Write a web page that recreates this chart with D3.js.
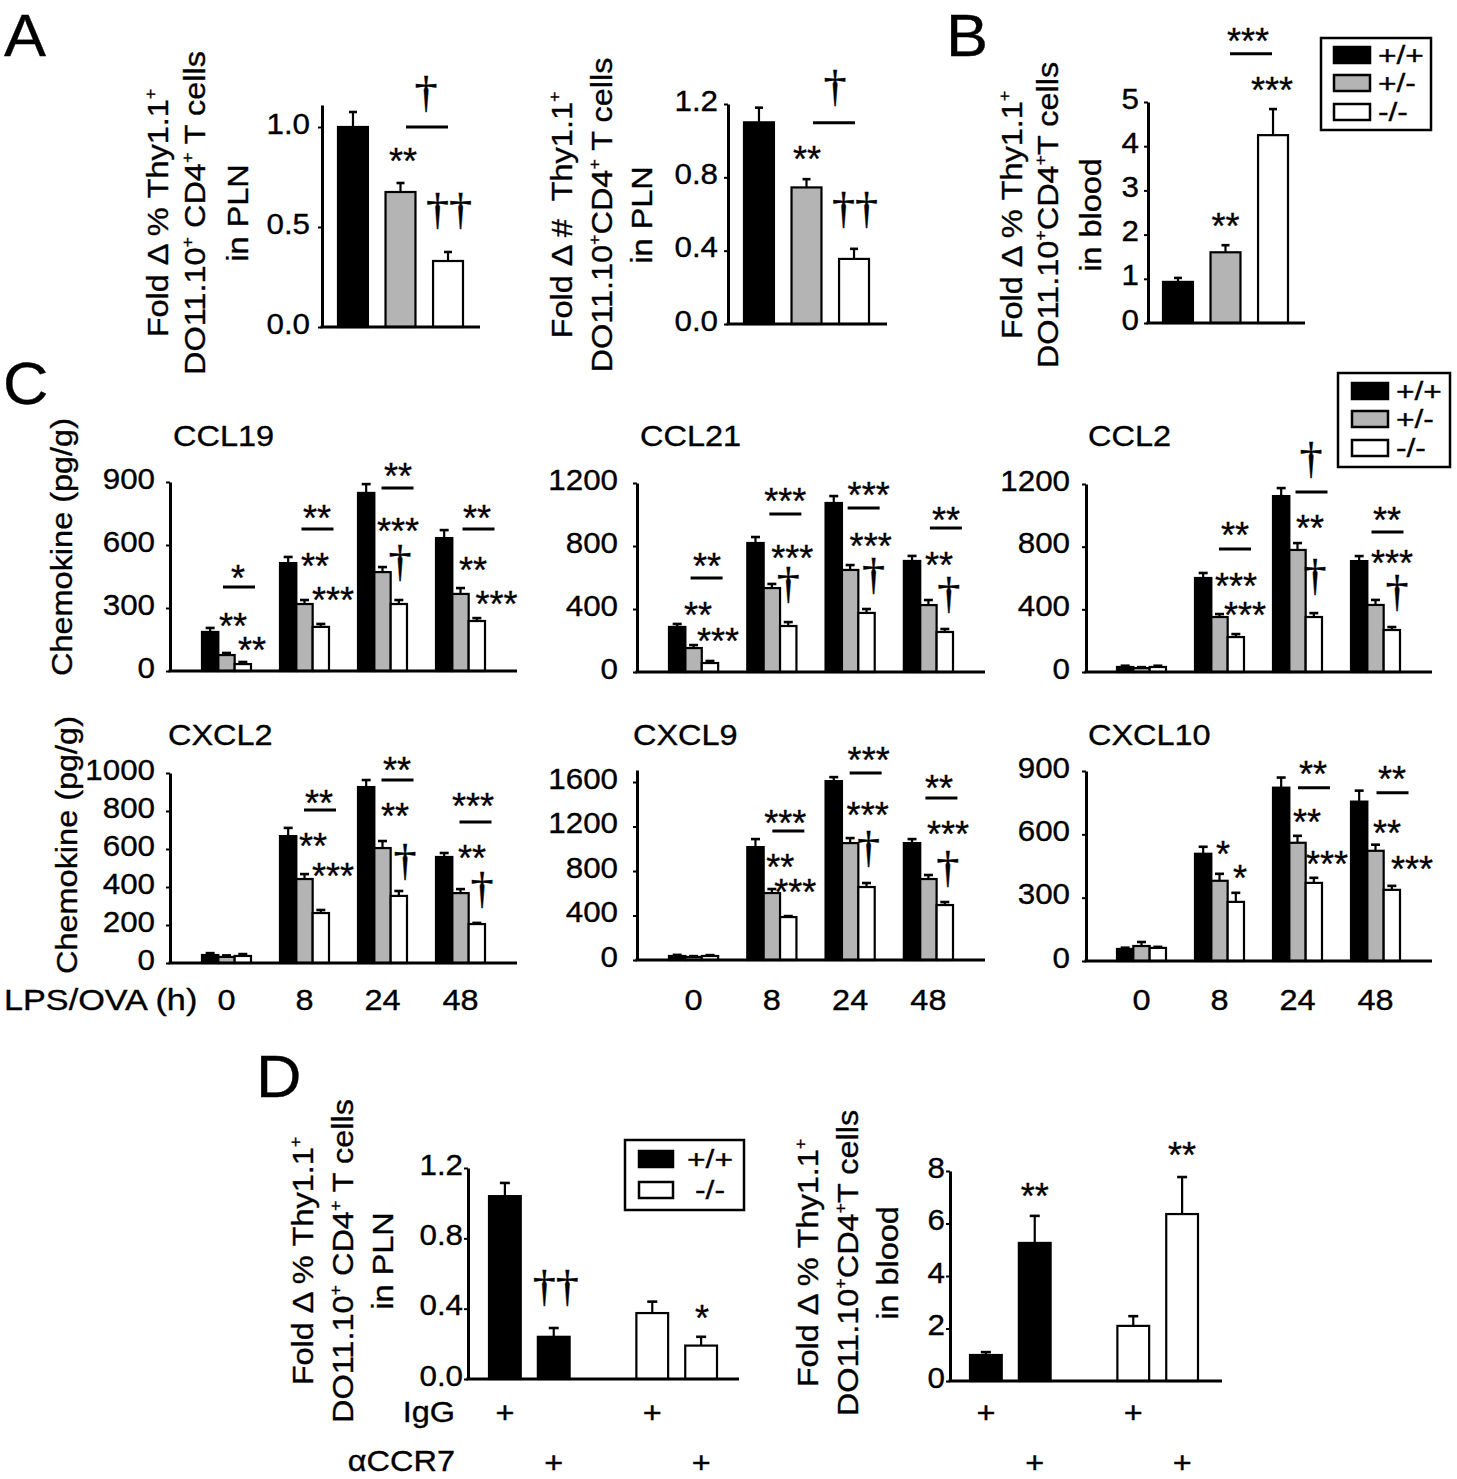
<!DOCTYPE html>
<html><head><meta charset="utf-8">
<script src="https://cdn.jsdelivr.net/npm/d3@7"></script>
<style>body{margin:0;background:#fff;} svg{display:block;} text{white-space:pre;}</style>
</head><body>
<script>
// ================= DATA =================
const genotypes = ["+/+", "+/-", "-/-"];
const timepoints = ["0", "8", "24", "48"];
const dGenotypes = ["+/+", "-/-"];
const treatments = ["IgG", "αCCR7"];

// Panel A (left): fold change % in PLN
const a1Means = [[1.00, 0.675, 0.33]];
const a1Errors = [[0.075, 0.045, 0.045]];
// Panel A (right): fold change # in PLN
const a2Means = [[1.10, 0.745, 0.355]];
const a2Errors = [[0.08, 0.045, 0.055]];
// Panel B: fold change % in blood
const bMeans = [[0.93, 1.60, 4.25]];
const bErrors = [[0.09, 0.16, 0.59]];

// Panel C: chemokines (rows = timepoints, cols = genotypes)
const ccl19Means = [[186, 76, 33], [514, 319, 210], [848, 471, 319], [633, 367, 238]];
const ccl19Errors = [[19, 10, 10], [29, 19, 14], [42, 24, 19], [38, 28, 14]];
const ccl21Means = [[286, 152, 57], [819, 533, 292], [1073, 648, 375], [705, 425, 254]];
const ccl21Errors = [[19, 19, 13], [38, 26, 25], [44, 31, 25], [32, 32, 19]];
const ccl2Means = [[32, 25, 32], [600, 351, 223], [1123, 779, 351], [708, 428, 268]];
const ccl2Errors = [[8, 6, 8], [32, 19, 19], [51, 44, 25], [32, 32, 19]];
const cxcl2Means = [[42, 32, 37], [668, 442, 263], [926, 605, 353], [558, 368, 205]];
const cxcl2Errors = [[10, 8, 10], [43, 26, 16], [37, 37, 26], [21, 21, 6]];
const cxcl9Means = [[36, 27, 36], [1015, 602, 386], [1608, 1051, 656], [1051, 728, 494]];
const cxcl9Errors = [[10, 8, 8], [72, 36, 9], [36, 45, 36], [36, 36, 27]];
const cxcl10Means = [[57, 71, 62], [508, 380, 280], [821, 560, 370], [755, 522, 337]];
const cxcl10Errors = [[6, 19, 5], [33, 33, 43], [48, 33, 24], [52, 29, 19]];

// Panel D (rows = genotype, cols = treatment)
const dPlnMeans = [[1.04, 0.24], [0.375, 0.19]];
const dPlnErrors = [[0.075, 0.05], [0.065, 0.05]];
const dBloodMeans = [[0.99, 5.26], [2.10, 6.36]];
const dBloodErrors = [[0.11, 1.03], [0.37, 1.41]];

// tick values
const a1Ticks = [0, 0.5, 1.0];
const a2Ticks = [0, 0.4, 0.8, 1.2];
const bTicks = [0, 1, 2, 3, 4, 5];
const ccl19Ticks = [0, 300, 600, 900];
const ccl21Ticks = [0, 400, 800, 1200];
const ccl2Ticks = [0, 400, 800, 1200];
const cxcl2Ticks = [0, 200, 400, 600, 800, 1000];
const cxcl9Ticks = [0, 400, 800, 1200, 1600];
const cxcl10Ticks = [0, 300, 600, 900];
const dPlnTicks = [0, 0.4, 0.8, 1.2];
const dBloodTicks = [0, 2, 4, 6, 8];

// significance marks: [group, bar, offset, level (data units), label]
const a1Sig = [[0, 1, 2.5, 0.87, "**"], [0, 1, 26.5, 1.0, "line"], [0, 1, 25.5, 1.157, "†"], [0, 2, 1, 0.575, "††"]];
const a2Sig = [[0, 1, 0.5, 0.94, "**"], [0, 1, 27.5, 1.098, "line"], [0, 1, 28.5, 1.279, "†"], [0, 2, 1, 0.612, "††"]];
const bSig = [[0, 1, 0, 2.38, "**"], [0, 1, 22.5, 6.56, "***"], [0, 1, 25.5, 6.09, "line"], [0, 2, -1, 5.45, "***"]];
const ccl19Sig = [
  [0, 1, 11.5, 481, "*"], [0, 1, 12.5, 400, "line"], [0, 1, 6.5, 252, "**"], [0, 1, 25.5, 138, "**"],
  [1, 1, 12.5, 767, "**"], [1, 1, 13, 676, "line"], [1, 1, 10.5, 538, "**"], [1, 1, 28.5, 376, "***"],
  [2, 1, 15.5, 967, "**"], [2, 1, 15, 871, "line"], [2, 1, 15.5, 705, "***"], [2, 1, 17.5, 510, "†"],
  [3, 1, 16.5, 767, "**"], [3, 1, 18, 676, "line"], [3, 1, 12.5, 519, "**"], [3, 1, 36, 357, "***"]];
const ccl21Sig = [
  [0, 1, 13.5, 724, "**"], [0, 1, 13, 597, "line"], [0, 1, 4.5, 413, "**"], [0, 1, 24.5, 248, "***"],
  [1, 1, 13.5, 1137, "***"], [1, 1, 13.5, 1003, "line"], [1, 1, 20.5, 775, "***"], [1, 1, 16.5, 546, "†"],
  [2, 1, 18.5, 1175, "***"], [2, 1, 13.5, 1041, "line"], [2, 1, 20.5, 851, "***"], [2, 1, 23.5, 603, "†"],
  [3, 1, 17.5, 1016, "**"], [3, 1, 17.5, 914, "line"], [3, 1, 10.5, 730, "**"], [3, 1, 20.5, 483, "†"]];
const ccl2Sig = [
  [1, 1, 15.5, 925, "**"], [1, 1, 15.5, 785, "line"], [1, 1, 16.5, 600, "***"], [1, 1, 25.5, 415, "***"],
  [2, 1, 13.5, 1347, "†"], [2, 1, 14, 1149, "line"], [2, 1, 12.5, 970, "**"], [2, 1, 17.5, 600, "†"],
  [3, 1, 11.5, 1021, "**"], [3, 1, 12, 893, "line"], [3, 1, 16.5, 747, "***"], [3, 1, 21.5, 498, "†"]];
const cxcl2Sig = [
  [1, 1, 14.5, 884, "**"], [1, 1, 15.5, 805, "line"], [1, 1, 8.5, 658, "**"], [1, 1, 28.5, 500, "***"],
  [2, 1, 14.5, 1058, "**"], [2, 1, 15, 963, "line"], [2, 1, 12.5, 816, "**"], [2, 1, 22.5, 526, "†"],
  [3, 1, 12.5, 868, "***"], [3, 1, 15, 742, "line"], [3, 1, 11.5, 595, "**"], [3, 1, 21.5, 379, "†"]];
const cxcl9Sig = [
  [1, 1, 13.5, 1303, "***"], [1, 1, 16.5, 1159, "line"], [1, 1, 8.5, 907, "**"], [1, 1, 23.5, 683, "***"],
  [2, 1, 18.5, 1869, "***"], [2, 1, 15.5, 1680, "line"], [2, 1, 17.5, 1375, "***"], [2, 1, 18.5, 988, "†"],
  [3, 1, 10.5, 1617, "**"], [3, 1, 13, 1456, "line"], [3, 1, 19.5, 1204, "***"], [3, 1, 19.5, 809, "†"]];
const cxcl10Sig = [
  [1, 1, 3.5, 541, "*"], [1, 1, 20.5, 432, "*"],
  [2, 1, 15.5, 921, "**"], [2, 1, 16.5, 821, "line"], [2, 1, 9.5, 693, "**"], [2, 1, 29.5, 494, "***"],
  [3, 1, 16.5, 897, "**"], [3, 1, 17, 797, "line"], [3, 1, 11.5, 641, "**"], [3, 1, 36.5, 470, "***"]];
const dPlnSig = [[0, 1, 2, 0.512, "††"], [1, 1, 1, 0.39, "*"]];
const dBloodSig = [[0, 1, 0, 7.35, "**"], [1, 1, 0, 8.91, "**"]];

// ================= DRAWING =================
const W = 1457, H = 1479;
const svg = d3.select("body").append("svg").attr("width", W).attr("height", H);
svg.append("rect").attr("width", W).attr("height", H).attr("fill", "#fff");

const FONT = "'Liberation Sans', Arial, Helvetica, sans-serif";
const DAGFONT = "'Liberation Serif', 'Times New Roman', serif";
const FS = 29, SX = 1.12, TSX = 1.08, STAR = 36, DAG = 44;
const fillOf = {"+/+": "#000", "+/-": "#b4b4b4", "-/-": "#fff"};

function addText(parent, str, o = {}) {
  const size = o.size || FS, sx = o.sx || SX;
  const t = parent.append("text")
    .attr("transform", `translate(${o.x || 0},${o.y || 0})${o.rot ? ` rotate(${o.rot})` : ""} scale(${sx},1)`)
    .attr("text-anchor", o.anchor || "start")
    .attr("font-family", o.family || FONT)
    .attr("font-size", size)
    .attr("fill", "#000")
    .attr("stroke", "#000").attr("stroke-width", 0.35);
  const parts = String(str).split("^+");
  parts.forEach((p, i) => {
    if (i > 0) {
      t.append("tspan").attr("font-size", size * 0.55).attr("dy", -size * 0.42).text("+");
      t.append("tspan").attr("dy", size * 0.42).text(p);
    } else {
      t.append("tspan").text(p);
    }
  });
  return t;
}

function barChart(cfg) {
  const g = svg.append("g");
  const y = d3.scaleLinear().domain([0, cfg.yMax]).range([cfg.baseY, cfg.topY]);
  const x0 = d3.scaleBand().domain(cfg.groups).range(cfg.range).paddingInner(cfg.groupPad || 0).paddingOuter(0);
  const x1 = d3.scaleBand().domain(cfg.series).range([0, x0.bandwidth()]).paddingInner(cfg.seriesPad || 0).paddingOuter(0);
  const cells = cfg.groups.flatMap((grp, gi) => cfg.series.map((s, si) => ({grp, s, gi, si, v: cfg.means[gi][si], e: cfg.errors[gi][si]})));
  const cx = d => x0(d.grp) + x1(d.s) + x1.bandwidth() / 2;

  // error bars (upper only)
  g.append("g").selectAll("line").data(cells).join("line")
    .attr("x1", cx).attr("x2", cx)
    .attr("y1", d => y(d.v)).attr("y2", d => y(d.v + d.e))
    .attr("stroke", "#000").attr("stroke-width", 2.2);
  g.append("g").selectAll("line").data(cells).join("line")
    .attr("x1", d => cx(d) - cfg.cap / 2).attr("x2", d => cx(d) + cfg.cap / 2)
    .attr("y1", d => y(d.v + d.e)).attr("y2", d => y(d.v + d.e))
    .attr("stroke", "#000").attr("stroke-width", 2.6);
  // bars
  g.append("g").selectAll("rect").data(cells).join("rect")
    .attr("x", d => x0(d.grp) + x1(d.s)).attr("width", x1.bandwidth())
    .attr("y", d => y(d.v)).attr("height", d => y(0) - y(d.v))
    .attr("fill", cfg.fill).attr("stroke", "#000").attr("stroke-width", 2.2);

  // y axis
  const ax = g.append("g").attr("transform", `translate(${cfg.axisX},0)`)
    .call(d3.axisLeft(y).tickValues(cfg.ticks).tickFormat(d3.format(cfg.fmt))
      .tickSize(4).tickSizeOuter(0).tickPadding(cfg.tickPad));
  ax.select(".domain").attr("stroke", "#000").attr("stroke-width", 3);
  ax.selectAll(".tick line").attr("stroke", "#000").attr("stroke-width", 2);
  ax.selectAll(".tick text").each(function () {
    const t = d3.select(this); const tx = +t.attr("x");
    t.attr("x", 0).attr("dy", "0.35em")
      .attr("transform", `translate(${tx},-4) scale(${TSX},1)`)
      .attr("font-family", FONT).attr("font-size", FS).attr("fill", "#000")
      .attr("stroke", "#000").attr("stroke-width", 0.35);
  });
  // x baseline
  g.append("line").attr("x1", cfg.axisX - 1.5).attr("x2", cfg.axisEnd)
    .attr("y1", cfg.baseY).attr("y2", cfg.baseY).attr("stroke", "#000").attr("stroke-width", 3);

  // x labels
  if (cfg.xLabelY) {
    cfg.groups.forEach(grp => addText(g, grp, {x: x0(grp) + x0.bandwidth() / 2, y: cfg.xLabelY, anchor: "middle"}));
  }
  // "+" treatment rows
  if (cfg.plusRows) {
    cfg.series.forEach((s, si) => cfg.groups.forEach(grp =>
      addText(g, "+", {x: x0(grp) + x1(s) + x1.bandwidth() / 2, y: cfg.plusRows[si], anchor: "middle"})));
  }
  // title
  if (cfg.title) addText(g, cfg.title[0], {x: cfg.title[1], y: cfg.title[2]});

  // significance
  (cfg.sig || []).forEach(([gi, si, dx, v, lab]) => {
    const px = x0(cfg.groups[gi]) + x1(cfg.series[si]) + x1.bandwidth() / 2 + dx;
    const py = y(v);
    if (lab === "line") {
      g.append("line").attr("x1", px - cfg.lineW / 2).attr("x2", px + cfg.lineW / 2)
        .attr("y1", py).attr("y2", py).attr("stroke", "#000").attr("stroke-width", 3);
    } else if (lab.includes("†")) {
      addText(g, lab, {x: px, y: py + 0.265 * DAG, size: DAG, anchor: "middle", family: DAGFONT, sx: 1.05});
    } else {
      addText(g, lab, {x: px, y: py + 0.575 * STAR, size: STAR, anchor: "middle", sx: 1.0});
    }
  });
  return {g, x0, x1, y};
}

function yLabel(lines, xs, cy) {
  lines.forEach((ln, i) => addText(svg, ln, {x: xs[i], y: cy, rot: -90, anchor: "middle"}));
}

function legend(keys, box, sw, rows, labX, labAnchor) {
  const g = svg.append("g");
  g.append("rect").attr("x", box[0]).attr("y", box[1]).attr("width", box[2]).attr("height", box[3])
    .attr("fill", "#fff").attr("stroke", "#000").attr("stroke-width", 2.5);
  keys.forEach((k, i) => {
    g.append("rect").attr("x", sw[0]).attr("y", rows[i] - sw[2] / 2).attr("width", sw[1]).attr("height", sw[2])
      .attr("fill", fillOf[k]).attr("stroke", "#000").attr("stroke-width", 2.5);
    addText(g, k, {x: labX, y: rows[i] + 9, anchor: labAnchor, size: 26, sx: 1.22});
  });
}

// ---------- Panel letters ----------
[["A", 4, 56], ["B", 946, 56], ["C", 3, 404], ["D", 256, 1097]].forEach(([t, x, yy]) =>
  addText(svg, t, {x, y: yy, size: 60, sx: 1.05}));

// ---------- Panel A ----------
const genoFill = d => fillOf[d.s];
barChart({groups: [""], series: genotypes, means: a1Means, errors: a1Errors, yMax: 1.11, baseY: 327, topY: 105,
  axisX: 322, axisEnd: 480, range: [338, 463], seriesPad: 0.37, ticks: a1Ticks, fmt: ".1f", tickPad: 8,
  cap: 8, fill: genoFill, sig: a1Sig, lineW: 42});
yLabel(["Fold Δ % Thy1.1^+", "DO11.10^+ CD4^+ T cells", "in PLN"], [168, 205, 248], 213);

barChart({groups: [""], series: genotypes, means: a2Means, errors: a2Errors, yMax: 1.2, baseY: 324, topY: 104,
  axisX: 728, axisEnd: 887, range: [744, 869], seriesPad: 0.37, ticks: a2Ticks, fmt: ".1f", tickPad: 6,
  cap: 8, fill: genoFill, sig: a2Sig, lineW: 42});
yLabel(["Fold Δ #  Thy1.1^+", "DO11.10^+CD4^+ T cells", "in PLN"], [572, 612, 652], 215);

// ---------- Panel B ----------
barChart({groups: [""], series: genotypes, means: bMeans, errors: bErrors, yMax: 5, baseY: 323, topY: 102,
  axisX: 1148, axisEnd: 1305, range: [1163, 1288], seriesPad: 0.37, ticks: bTicks, fmt: "d", tickPad: 5,
  cap: 8, fill: genoFill, sig: bSig, lineW: 42});
yLabel(["Fold Δ % Thy1.1^+", "DO11.10^+CD4^+T cells", "in blood"], [1022, 1058, 1101], 215);
legend(genotypes, [1321, 38, 110, 92], [1334, 36, 16], [55, 83, 112], 1378, "start");

// ---------- Panel C ----------
const cBase = {groups: timepoints, series: genotypes, groupPad: 0.372, cap: 9, fill: genoFill, lineW: 32, fmt: "d"};
barChart({...cBase, title: ["CCL19", 173, 446], means: ccl19Means, errors: ccl19Errors, yMax: 900, baseY: 671, topY: 482,
  axisX: 170, axisEnd: 517, range: [202, 485], ticks: ccl19Ticks, tickPad: 11, sig: ccl19Sig});
barChart({...cBase, title: ["CCL21", 640, 446], means: ccl21Means, errors: ccl21Errors, yMax: 1200, baseY: 672, topY: 483,
  axisX: 637, axisEnd: 985, range: [669, 953], ticks: ccl21Ticks, tickPad: 15, sig: ccl21Sig});
barChart({...cBase, title: ["CCL2", 1088, 446], means: ccl2Means, errors: ccl2Errors, yMax: 1200, baseY: 672, topY: 484,
  axisX: 1086, axisEnd: 1432, range: [1117, 1400], ticks: ccl2Ticks, tickPad: 12, sig: ccl2Sig});
barChart({...cBase, title: ["CXCL2", 168, 745], means: cxcl2Means, errors: cxcl2Errors, yMax: 1000, baseY: 963, topY: 773,
  axisX: 170, axisEnd: 517, range: [202, 485], ticks: cxcl2Ticks, tickPad: 11, sig: cxcl2Sig, xLabelY: 1010});
barChart({...cBase, title: ["CXCL9", 633, 745], means: cxcl9Means, errors: cxcl9Errors, yMax: 1708, baseY: 960, topY: 770,
  axisX: 637, axisEnd: 985, range: [669, 953], ticks: cxcl9Ticks, tickPad: 15, sig: cxcl9Sig, xLabelY: 1010});
barChart({...cBase, title: ["CXCL10", 1088, 745], means: cxcl10Means, errors: cxcl10Errors, yMax: 900, baseY: 961, topY: 771,
  axisX: 1086, axisEnd: 1432, range: [1117, 1400], ticks: cxcl10Ticks, tickPad: 12, sig: cxcl10Sig, xLabelY: 1010});
yLabel(["Chemokine (pg/g)"], [72], 547);
yLabel(["Chemokine (pg/g)"], [77], 845);
addText(svg, "LPS/OVA (h)", {x: 4, y: 1010, sx: 1.18});
legend(genotypes, [1338, 373, 112, 94], [1352, 36, 16], [391, 419, 448], 1396, "start");

// ---------- Panel D ----------
const dFill = d => fillOf[d.grp];
barChart({groups: dGenotypes, series: treatments, means: dPlnMeans, errors: dPlnErrors, yMax: 1.2, baseY: 1379, topY: 1168,
  axisX: 468, axisEnd: 739, range: [489, 717], groupPad: 0.453, seriesPad: 0.35, ticks: dPlnTicks, fmt: ".1f", tickPad: 1,
  cap: 10, fill: dFill, sig: dPlnSig, plusRows: [1423, 1473]});
yLabel(["Fold Δ % Thy1.1^+", "DO11.10^+ CD4^+ T cells", "in PLN"], [313, 353, 393], 1261);
addText(svg, "IgG", {x: 455, y: 1422, anchor: "end"});
addText(svg, "αCCR7", {x: 455, y: 1471, anchor: "end"});
legend(dGenotypes, [625, 1140, 119, 70], [639, 34, 16], [1159, 1190], 710, "middle");

barChart({groups: dGenotypes, series: treatments, means: dBloodMeans, errors: dBloodErrors, yMax: 8, baseY: 1381, topY: 1171,
  axisX: 950, axisEnd: 1222, range: [970, 1198], groupPad: 0.453, seriesPad: 0.35, ticks: dBloodTicks, fmt: "d", tickPad: 1,
  cap: 10, fill: dFill, sig: dBloodSig, plusRows: [1423, 1473]});
yLabel(["Fold Δ % Thy1.1^+", "DO11.10^+CD4^+T cells", "in blood"], [818, 858, 898], 1263);
</script>
</body></html>
